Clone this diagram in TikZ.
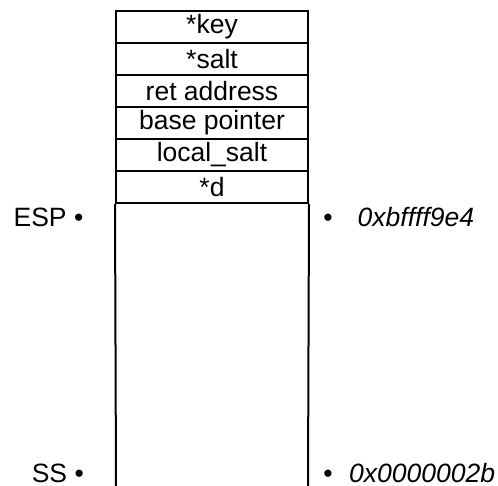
\documentclass[tikz,border=0pt]{standalone}
\usepackage{fontspec}
\setmainfont{Liberation Sans}
\begin{document}
\begin{tikzpicture}[x=1pt,y=1pt,
  cell/.style={draw, line width=2pt, minimum width=192pt, minimum height=32pt, inner sep=0pt, font=\fontsize{26.5}{30}\selectfont},
  lab/.style={inner sep=0pt, font=\fontsize{26.5}{30}\selectfont},
  addr/.style={inner sep=0pt, font=\fontsize{26.5}{30}\selectfont\itshape}]
\useasboundingbox (0,0) rectangle (498,486);
\node[cell] (key) at (212,459) {*key};
\node[cell] (salt) at (212,427) {*salt};
\node[cell] (ret) at (212,395) {ret address};
\node[cell] (bp) at (212,363) {base pointer};
\node[cell] (ls) at (212,331) {local\_salt};
\node[cell] (d) at (212,299) {*d};
\coordinate (bl) at (116,0);
\coordinate (br) at (308,0);
\draw[line width=2pt] (d.south west) -- (bl);
\draw[line width=2pt] (d.south east) -- (br);
\node[lab, anchor=base east] (esp) at (83.5,259.5) {ESP •};
\node[lab, anchor=base east] (ss) at (84,3) {SS •};
\node[lab, anchor=base] (b1) at (328,259.5) {•};
\node[lab, anchor=base] (b2) at (328,3) {•};
\node[addr, anchor=base west] (a1) at (357.5,259.5) {0xbffff9e4};
\node[addr, anchor=base west] (a2) at (349,3) {0x0000002b};
\end{tikzpicture}
\end{document}
